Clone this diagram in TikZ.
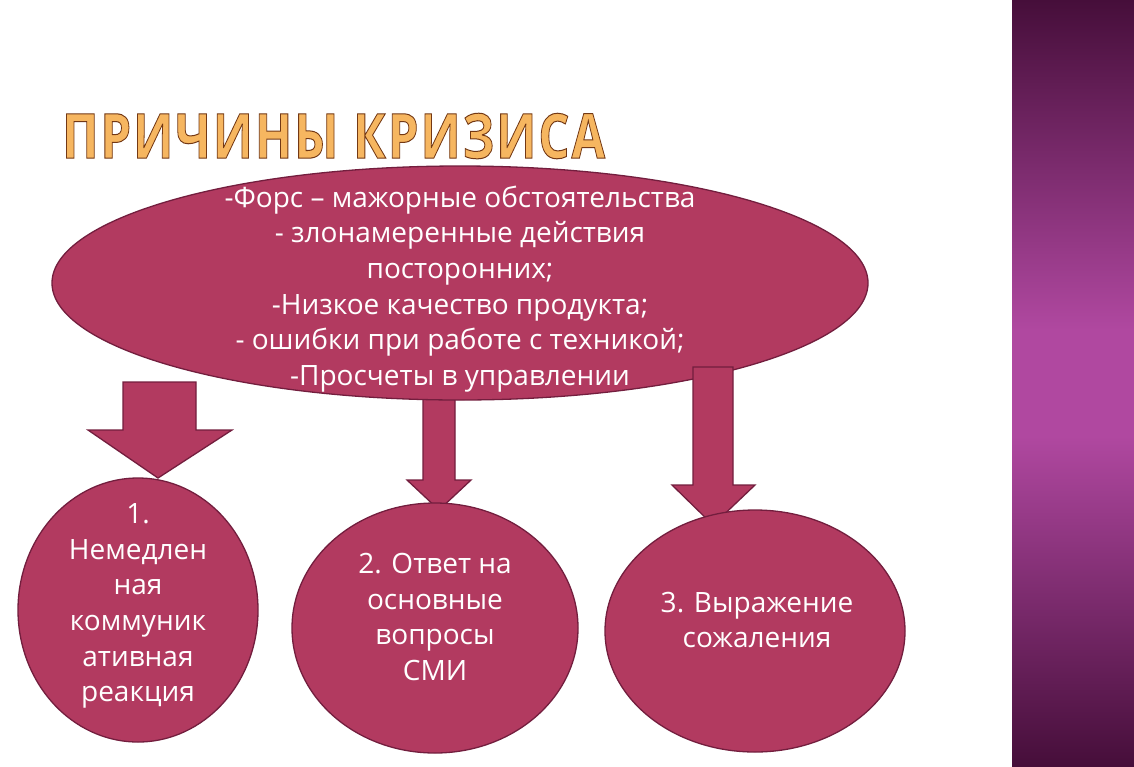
\documentclass[tikz,border=0pt]{standalone}
\usepackage{fontspec}
\setmainfont{Open Sans}
\newfontfamily\titlefont[LetterSpace=4]{Open Sans}
\usetikzlibrary{shapes.geometric,calc}
\definecolor{crim}{RGB}{178,58,96}
\definecolor{crimdark}{RGB}{115,30,62}
\definecolor{titlefill}{RGB}{246,182,96}
\definecolor{bandDark}{RGB}{70,14,58}
\definecolor{bandMid}{RGB}{176,72,160}
\newcommand\outlinetxt[1]{\special{pdf:code 2 Tr 1.0 w 0.45 0.22 0.08 RG}#1\special{pdf:code 0 Tr}}
\tikzset{
  shapebox/.style={draw=crimdark, line width=1.3pt, fill=crim},
  blobtext/.style={text=white, align=center, inner sep=0pt, font=\fontsize{28}{35.6}\selectfont},
  bigarrow/.style={draw=crimdark, line width=1.3pt, fill=crim, line join=miter}
}
\begin{document}
\begin{tikzpicture}[x=1pt,y=-1pt]
\useasboundingbox (0,0) rectangle (1134,766);
% right band
\shade[top color=bandDark, bottom color=bandMid] (1012,0) rectangle (1134,330);
\shade[top color=bandMid, bottom color=bandDark] (1012,436) rectangle (1134,766);
\fill[bandMid] (1012,329) rectangle (1134,437);
% title
\node[anchor=north west, inner sep=0pt, text=titlefill] (title) at (62,113)
  {\resizebox{543pt}{45pt}{\titlefont\bfseries\fontsize{62}{62}\selectfont\outlinetxt{ПРИЧИНЫ КРИЗИСА}}};
% middle arrow (behind ellipse)
\draw[bigarrow] (423,380) coordinate (m1) -- (455,380) -- (455,480) -- (471,480) -- (439,510) coordinate (mtip) -- (407,480) -- (423,480) -- cycle;
% ellipse
\node[ellipse, shapebox, minimum width=816pt, minimum height=234pt, inner sep=0pt] (causes) at (460,283) {};
\node[blobtext] (causestext) at (460,289) {-Форс – мажорные обстоятельства\\- злонамеренные действия\\посторонних;\\-Низкое качество продукта;\\- ошибки при работе с техникой;\\-Просчеты в управлении};
% right arrow (on top)
\draw[bigarrow] (693,367) -- (733,367) -- (733,485) -- (755,485) -- (713,525) coordinate (rtip) -- (672,485) -- (693,485) -- cycle;
% circles
\node[ellipse, shapebox, minimum width=240pt, minimum height=264pt, inner sep=0pt] (c1) at (138,610) {};
\node[ellipse, shapebox, minimum width=286pt, minimum height=250pt, inner sep=0pt] (c2) at (435,628) {};
\node[ellipse, shapebox, minimum width=300pt, minimum height=242pt, inner sep=0pt] (c3) at (755,631) {};
% left arrow
\draw[bigarrow] (123,382) -- (196,382) -- (196,430) -- (232,430) -- (158,478) coordinate (ltip) -- (88,430) -- (123,430) -- cycle;
\node[blobtext] (t1) at (138,606) {1.\\Немедлен\\ная\\коммуник\\ативная\\реакция};
\node[blobtext] (t2) at (435,617) {2. Ответ на\\основные\\вопросы\\СМИ};
\node[blobtext] (t3) at (757,620) {3. Выражение\\сожаления};
\end{tikzpicture}
\end{document}
